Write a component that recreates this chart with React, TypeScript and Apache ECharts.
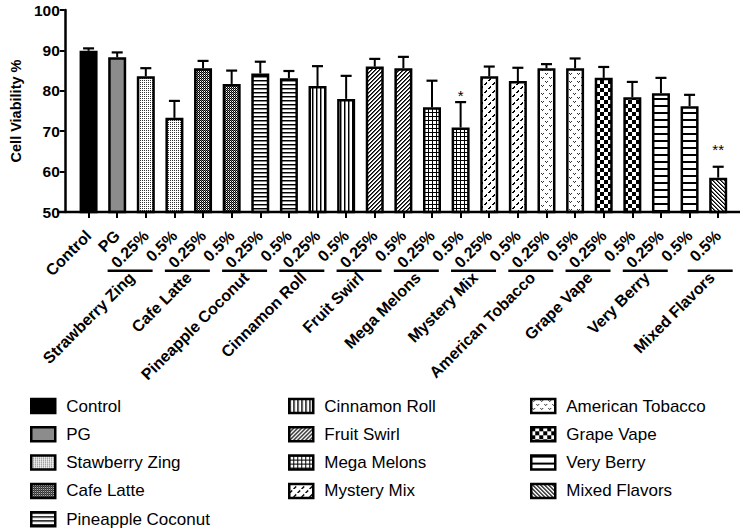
import React, { useEffect, useRef } from 'react';
import * as echarts from 'echarts';

// ---------- data ----------
const categoryIds = [
  'ctrl', 'pg', 'sz25', 'sz5', 'cl25', 'cl5', 'pc25', 'pc5', 'cr25', 'cr5', 'fs25', 'fs5',
  'mm25', 'mm5', 'my25', 'my5', 'at25', 'at5', 'gv25', 'gv5', 'vb25', 'vb5', 'mf5',
];
const tickLabels = [
  'Control', 'PG', '0.25%', '0.5%', '0.25%', '0.5%', '0.25%', '0.5%', '0.25%', '0.5%', '0.25%', '0.5%',
  '0.25%', '0.5%', '0.25%', '0.5%', '0.25%', '0.5%', '0.25%', '0.5%', '0.25%', '0.5%', '0.5%',
];
const seriesOfBar = [0, 1, 2, 2, 3, 3, 4, 4, 5, 5, 6, 6, 7, 7, 8, 8, 9, 9, 10, 10, 11, 11, 12];
const means = [
  89.9, 88.3, 83.6, 73.3, 85.6, 81.7, 84.3, 83.1, 81.2, 78.0, 86.0, 85.6,
  75.9, 70.9, 83.6, 82.4, 85.6, 85.6, 83.2, 78.4, 79.4, 76.2, 58.5,
];
const errors = [
  0.6, 1.2, 2.0, 4.2, 1.8, 3.3, 2.9, 1.8, 4.9, 5.7, 1.9, 2.8,
  6.6, 6.3, 2.4, 3.3, 1.0, 2.4, 2.7, 3.8, 3.8, 2.8, 2.7,
];
const stars = ['', '', '', '', '', '', '', '', '', '', '', '', '', '*', '', '', '', '', '', '', '', '', '**'];
const starAt = [null, null, null, null, null, null, null, null, null, null, null, null, null, 79.1, null, null, null, null, null, null, null, null, 65.8];
const legendNames = [
  'Control', 'PG', 'Stawberry Zing', 'Cafe Latte', 'Pineapple Coconut', 'Cinnamon Roll', 'Fruit Swirl',
  'Mega Melons', 'Mystery Mix', 'American Tobacco', 'Grape Vape', 'Very Berry', 'Mixed Flavors',
];
const groupLabels = [
  'Strawberry Zing', 'Cafe Latte', 'Pineapple Coconut', 'Cinnamon Roll', 'Fruit Swirl', 'Mega Melons',
  'Mystery Mix', 'American Tobacco', 'Grape Vape', 'Very Berry', 'Mixed Flavors',
];
const yMin = 50;
const yMax = 100;
const yInterval = 10;

const FONT = "'Liberation Sans', Arial, Helvetica, sans-serif";

function pat(w: number, h: number, fn: (x: number, y: number) => string | null) {
  const c = document.createElement('canvas');
  c.width = w;
  c.height = h;
  const ctx = c.getContext('2d')!;
  ctx.fillStyle = '#fff';
  ctx.fillRect(0, 0, w, h);
  for (let y = 0; y < h; y++) {
    for (let x = 0; x < w; x++) {
      const col = fn(x, y);
      if (col) {
        ctx.fillStyle = col;
        ctx.fillRect(x, y, 1, 1);
      }
    }
  }
  return { image: c.toDataURL(), repeat: 'repeat', imageWidth: w, imageHeight: h } as any;
}

function makePatterns(): any[] {
  const m = (v: number, n: number) => ((v % n) + n) % n;
  return [
    '#000000',
    '#8c8c8c',
    pat(2, 2, (x, y) => (x === 0 && y === 0 ? '#333' : null)),
    pat(2, 2, (x, y) => ((x + y) % 2 === 0 ? '#000' : x === 1 ? '#777' : null)),
    pat(4, 4, (x, y) => (y === 0 ? '#000' : y === 1 ? '#888' : null)),
    pat(4, 4, (x, y) => (x === 0 ? '#000' : x === 1 ? '#888' : null)),
    pat(4, 4, (x, y) => (m(x + y, 4) === 0 ? '#000' : m(x + y, 4) === 1 ? '#555' : null)),
    pat(4, 4, (x, y) => (x === 0 || y === 0 ? '#000' : null)),
    pat(8, 8, (x, y) => (m(x + y, 8) < 2 && m(x - y, 8) < 5 ? '#000' : null)),
    pat(8, 8, (x, y) => {
      const pts = [[1, 1], [3, 1], [2, 2], [5, 5], [7, 5], [6, 6]];
      return pts.some((p) => p[0] === x && p[1] === y) ? '#333' : null;
    }),
    pat(8, 8, (x, y) => ((x < 4) === (y < 4) ? '#000' : null)),
    pat(4, 7, (x, y) => (y < 2 ? '#000' : null)),
    pat(4, 4, (x, y) => (m(x - y, 4) === 0 ? '#000' : m(x - y, 4) === 1 ? '#666' : null)),
  ];
}

export default function App() {
  const ref = useRef<HTMLDivElement>(null);
  useEffect(() => {
    if (!ref.current) return;
    const chart = echarts.init(ref.current, undefined, { renderer: 'svg' });
    const patterns = makePatterns();

    const groups = groupLabels.map((label, k) => {
      const s = k + 2;
      const idx = seriesOfBar.map((v, i) => (v === s ? i : -1)).filter((i) => i >= 0);
      return { label, from: idx[0], to: idx[idx.length - 1] };
    });

    const barSeries = legendNames.map((name, s) => ({
      type: 'bar',
      name,
      data: means.map((v, i) => (seriesOfBar[i] === s ? v : '-')),
      barWidth: 18,
      barGap: '-100%',
      itemStyle: { color: patterns[s], borderColor: '#000', borderWidth: 2.5 },
      z: 2,
    }));

    const legendBase = {
      orient: 'vertical',
      itemWidth: 24,
      itemHeight: 14,
      itemGap: 11.3,
      padding: 0,
      icon: 'rect',
      top: 397.5,
      itemStyle: { borderColor: '#000', borderWidth: 2.5 },
      textStyle: { fontFamily: FONT, fontSize: 17, color: '#000', lineHeight: 17, padding: [0, 0, 0, 6] },
      selectedMode: false,
    };

    chart.setOption({
      animation: false,
      grid: { left: 67.5, right: 10.5, top: 10, bottom: 320, containLabel: false },
      legend: [
        { ...legendBase, left: 30, data: legendNames.slice(0, 5) },
        { ...legendBase, left: 288, data: legendNames.slice(5, 9) },
        { ...legendBase, left: 530, data: legendNames.slice(9, 13) },
      ],
      xAxis: {
        type: 'category',
        data: categoryIds,
        axisLine: { show: false },
        axisTick: { show: true, alignWithLabel: true, length: 6, lineStyle: { color: '#000', width: 2 } },
        axisLabel: {
          interval: 0,
          rotate: 45,
          margin: 21,
          align: 'right',
          verticalAlign: 'middle',
          formatter: (_v: string, i: number) => tickLabels[i],
          fontFamily: FONT,
          fontWeight: 'bold',
          fontSize: 16,
          color: '#000',
        },
        splitLine: { show: false },
      },
      yAxis: {
        type: 'value',
        min: yMin,
        max: yMax,
        interval: yInterval,
        offset: 9.5,
        name: 'Cell Viability %',
        nameLocation: 'middle',
        nameGap: 29,
        nameTextStyle: { fontFamily: FONT, fontWeight: 'bold', fontSize: 14.5, color: '#000' },
        axisLine: { show: true, lineStyle: { color: '#000', width: 2.5 } },
        axisTick: { show: true, length: 5, lineStyle: { color: '#000', width: 2 } },
        axisLabel: { margin: 5, fontFamily: FONT, fontWeight: 'bold', fontSize: 15.5, color: '#000' },
        splitLine: { show: false },
      },
      graphic: [
        {
          type: 'line',
          z: 10,
          shape: { x1: 57, y1: 212, x2: 740, y2: 212 },
          style: { stroke: '#000', lineWidth: 2.5 },
        },
      ],
      series: [
        ...barSeries,
        {
          type: 'custom',
          name: 'errors',
          z: 3,
          data: means.map((v, i) => [i, v, v + errors[i]]),
          renderItem: (params: any, api: any) => {
            const i = params.dataIndex;
            const top = api.coord([api.value(0), api.value(1)]);
            const cap = api.coord([api.value(0), api.value(2)]);
            const children: any[] = [
              { type: 'line', shape: { x1: top[0], y1: top[1], x2: cap[0], y2: cap[1] }, style: { stroke: '#000', lineWidth: 2 } },
              { type: 'line', shape: { x1: cap[0] - 5.5, y1: cap[1], x2: cap[0] + 5.5, y2: cap[1] }, style: { stroke: '#000', lineWidth: 2.2 } },
            ];
            if (stars[i] && starAt[i] != null) {
              const sp = api.coord([api.value(0), starAt[i]]);
              children.push({
                type: 'text',
                x: sp[0],
                y: sp[1] + 1,
                style: { text: stars[i], align: 'center', verticalAlign: 'middle', font: `15px ${FONT}`, fill: '#000' },
              });
            }
            return { type: 'group', children };
          },
        },
        {
          type: 'custom',
          name: 'brackets',
          z: 3,
          data: groups.map((g) => [g.from, yMin]),
          renderItem: (params: any, api: any) => {
            const g = groups[params.dataIndex];
            const a = api.coord([g.from, yMin]);
            const b = api.coord([g.to, yMin]);
            const cx = g.from === g.to ? a[0] - 8 : (a[0] + b[0]) / 2 - 30;
            const y = a[1] + 58.7;
            return {
              type: 'group',
              children: [
                { type: 'line', shape: { x1: cx - 22.5, y1: y, x2: cx + 22.5, y2: y }, style: { stroke: '#000', lineWidth: 2.5 } },
                {
                  type: 'text',
                  x: cx - 4,
                  y: y - 1.5,
                  rotation: Math.PI / 4,
                  style: { text: g.label, align: 'right', verticalAlign: 'top', font: `bold 16px ${FONT}`, fill: '#000' },
                },
              ],
            };
          },
        },
      ],
    } as any);
    return () => chart.dispose();
  }, []);
  return <div ref={ref} style={{ position: 'absolute', left: 0, top: 0, width: 743, height: 532 }} />;
}
